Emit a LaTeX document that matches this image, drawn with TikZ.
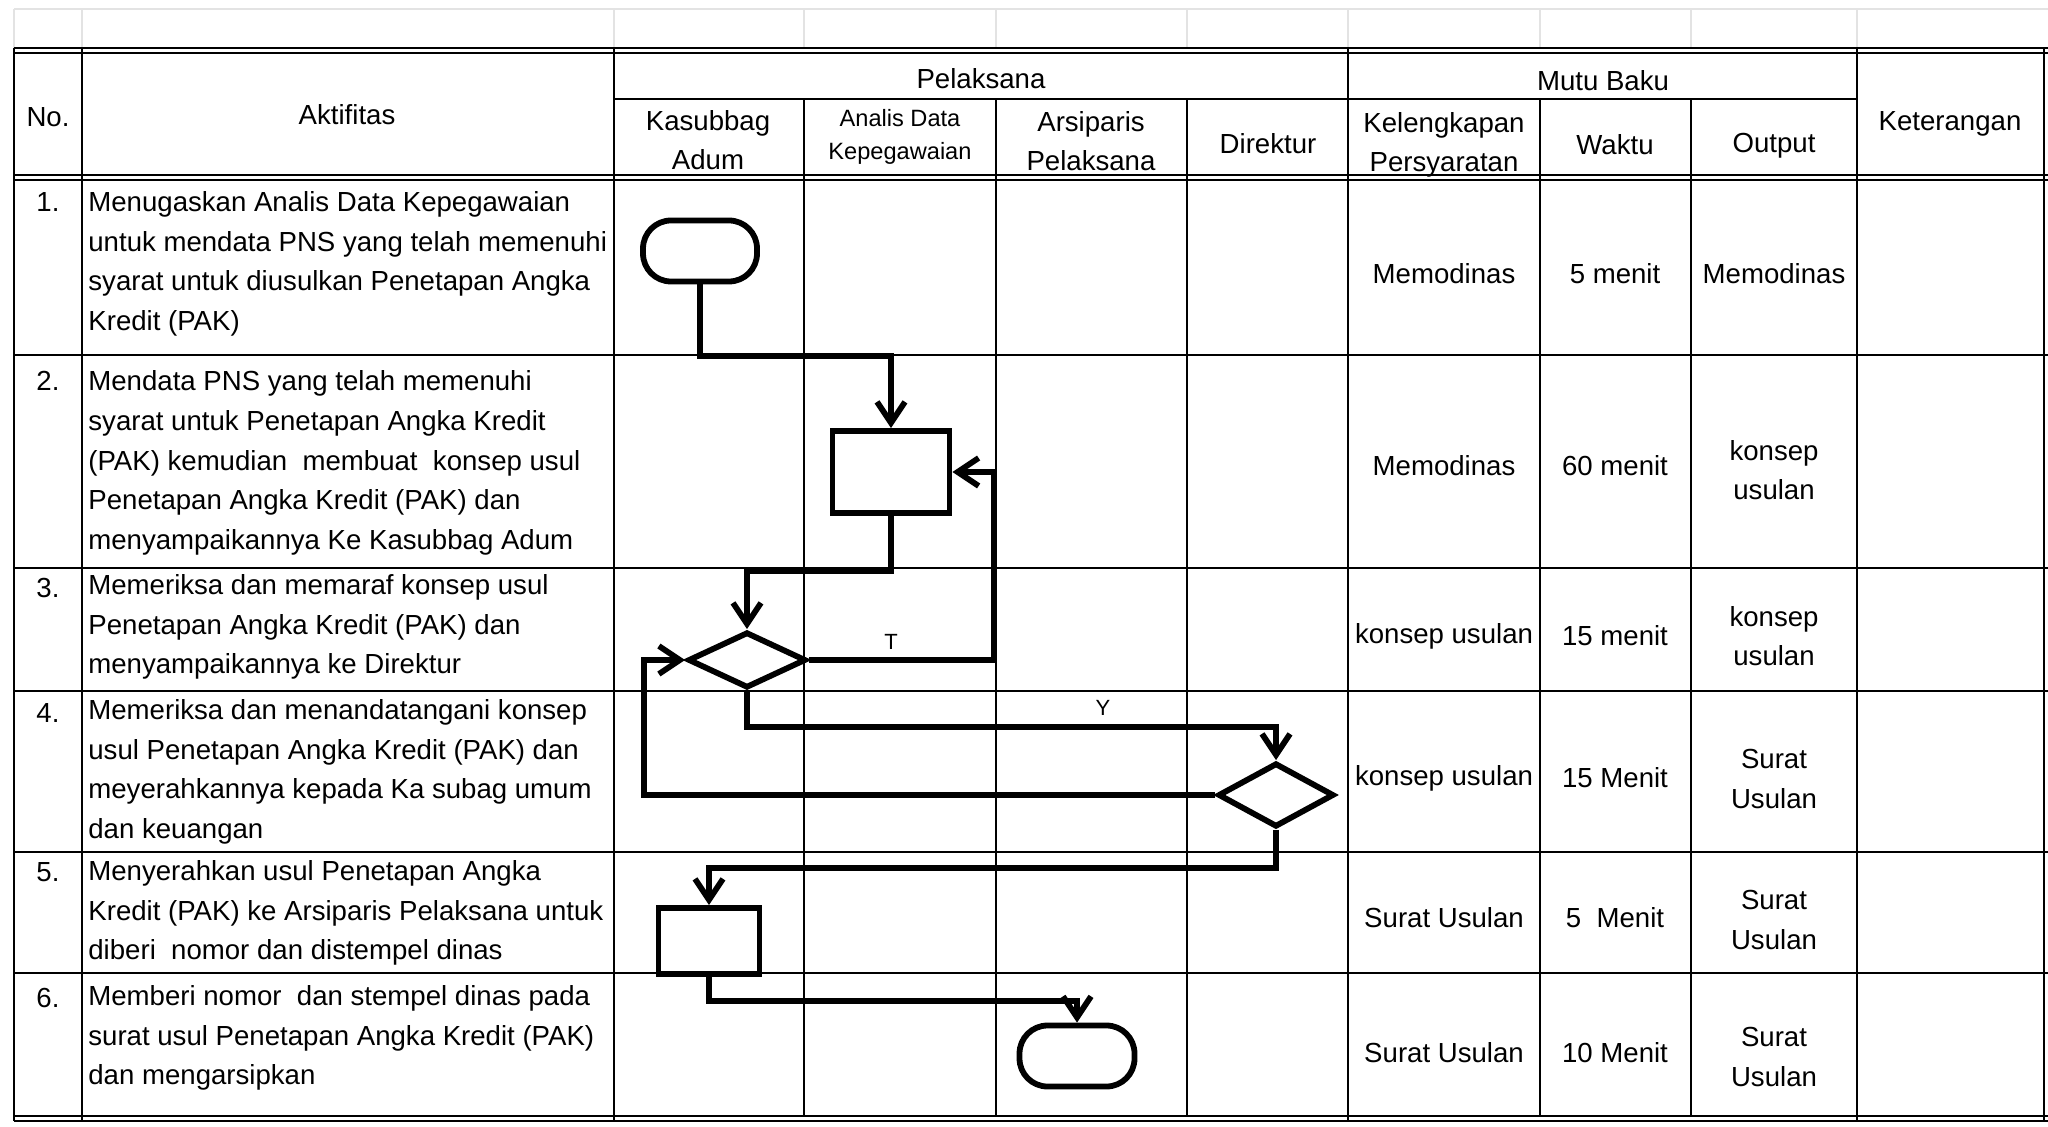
\documentclass[tikz,border=0pt]{standalone}
\usepackage{fontspec}
\setmainfont{Liberation Sans}
\usetikzlibrary{arrows.meta,shapes.geometric}
\begin{document}
\begin{tikzpicture}[x=0.5pt,y=-0.5pt,
  faint/.style={draw=black!11,line width=0.6pt},
  tline/.style={draw=black,line width=1pt},
  flow/.style={draw=black,line width=2.9pt,line join=miter},
  arr/.style={flow,-{Straight Barb[length=10.5pt,width=14pt]}},
  term/.style={draw,line width=2.9pt,rectangle,rounded corners=14pt,inner sep=0pt},
  proc/.style={draw,line width=2.9pt,rectangle,inner sep=0pt},
  dec/.style={draw,line width=2.9pt,diamond,inner sep=0pt},
  body/.style={font=\fontsize{13.8}{19.8}\selectfont,inner sep=0pt,align=left,anchor=west},
  cell/.style={font=\fontsize{13.8}{19.8}\selectfont,inner sep=0pt,align=center},
  small/.style={font=\fontsize{11.8}{16.5}\selectfont,inner sep=0pt,align=center},
  lbl/.style={font=\fontsize{11}{13}\selectfont,inner sep=0pt}
]
\fill[white] (0,0) rectangle (2048,1127);
\useasboundingbox (0,0) rectangle (2048,1127);

% faint spreadsheet grid above the table
\draw[faint] (14,9) -- (2048,9);
\foreach \x in {14,82,614,804,996,1187,1348,1540,1691,1857}
  \draw[faint] (\x,9) -- (\x,48);

% table frame
\draw[tline,line width=0.8pt] (14,48) -- (2048,48);
\draw[tline,line width=1.4pt] (14,53) -- (2048,53);
\draw[tline] (614,99) -- (1857,99);
\draw[tline] (14,175) -- (2048,175);
\draw[tline,line width=1.4pt] (14,180) -- (2048,180);
\foreach \y in {355,568,691,852,973}
  \draw[tline] (14,\y) -- (2048,\y);
\draw[tline,line width=1.4pt] (14,1116) -- (2048,1116);
\draw[tline,line width=0.8pt] (14,1121) -- (2048,1121);
\foreach \x in {14,82,614,1348,1857,2044}
  \draw[tline] (\x,48) -- (\x,1121);
\foreach \x in {804,996,1187,1540,1691}
  \draw[tline] (\x,99) -- (\x,1116);

% header
\node[cell] (hno) at (48,117) {No.};
\node[cell] (hakt) at (347,115) {Aktifitas};
\node[cell] (hpel) at (981,79) {Pelaksana};
\node[cell] (hmutu) at (1603,81) {Mutu Baku};
\node[cell] (hket) at (1950,124) {Keterangan};
\node[cell] (hkas) at (708,140) {Kasubbag\\Adum};
\node[small] (hana) at (900,137) {Analis Data\\Kepegawaian};
\node[cell] (hars) at (1091,141) {Arsiparis\\Pelaksana};
\node[cell] (hdir) at (1268,144) {Direktur};
\node[cell] (hkel) at (1444,145) {Kelengkapan\\Persyaratan};
\node[cell] (hwak) at (1615,145) {Waktu};
\node[cell] (hout) at (1774,146) {Output};

% numbers
\node[cell] (n1) at (48,202) {1.};
\node[cell] (n2) at (48,381) {2.};
\node[cell] (n3) at (48,588) {3.};
\node[cell] (n4) at (48,713) {4.};
\node[cell] (n5) at (48,872) {5.};
\node[cell] (n6) at (48,998) {6.};

% activities
\node[body] (a1) at (88,264) {Menugaskan Analis Data Kepegawaian\\untuk mendata PNS yang telah memenuhi\\syarat untuk diusulkan Penetapan Angka\\Kredit (PAK)};
\node[body] (a2) at (88,463) {Mendata PNS yang telah memenuhi\\syarat untuk Penetapan Angka Kredit\\(PAK) kemudian~ membuat~ konsep usul\\Penetapan Angka Kredit (PAK) dan\\menyampaikannya Ke Kasubbag Adum};
\node[body] (a3) at (88,627) {Memeriksa dan memaraf konsep usul\\Penetapan Angka Kredit (PAK) dan\\menyampaikannya ke Direktur};
\node[body] (a4) at (88,772) {Memeriksa dan menandatangani konsep\\usul Penetapan Angka Kredit (PAK) dan\\meyerahkannya kepada Ka subag umum\\dan keuangan};
\node[body] (a5) at (88,913) {Menyerahkan usul Penetapan Angka\\Kredit (PAK) ke Arsiparis Pelaksana untuk\\diberi~ nomor dan distempel dinas};
\node[body] (a6) at (88,1038) {Memberi nomor~ dan stempel dinas pada\\surat usul Penetapan Angka Kredit (PAK)\\dan mengarsipkan};

% mutu baku
\node[cell] (k1) at (1444,274) {Memodinas};
\node[cell] (w1) at (1615,274) {5 menit};
\node[cell] (o1) at (1774,274) {Memodinas};
\node[cell] (k2) at (1444,466) {Memodinas};
\node[cell] (w2) at (1615,466) {60 menit};
\node[cell] (o2) at (1774,470) {konsep\\usulan};
\node[cell] (k3) at (1444,636) {konsep usulan};
\node[cell] (w3) at (1615,636) {15 menit};
\node[cell] (o3) at (1774,636) {konsep\\usulan};
\node[cell] (k4) at (1444,778) {konsep usulan};
\node[cell] (w4) at (1615,778) {15 Menit};
\node[cell] (o4) at (1774,779) {Surat\\Usulan};
\node[cell] (k5) at (1444,918) {Surat Usulan};
\node[cell] (w5) at (1615,918) {5~~Menit};
\node[cell] (o5) at (1774,920) {Surat\\Usulan};
\node[cell] (k6) at (1444,1053) {Surat Usulan};
\node[cell] (w6) at (1615,1053) {10 Menit};
\node[cell] (o6) at (1774,1057) {Surat\\Usulan};

% flow shapes
\node[term,minimum width=57pt,minimum height=30.5pt] (start) at (700,251) {};
\node[proc,minimum width=58.5pt,minimum height=41pt] (box1) at (891,472) {};
\node[dec,minimum width=59pt,minimum height=28pt] (d1) at (747,660) {};
\node[dec,minimum width=58pt,minimum height=32pt] (d2) at (1276,795) {};
\node[proc,minimum width=50.5pt,minimum height=33pt] (box2) at (709,941) {};
\node[term,minimum width=57.5pt,minimum height=30.5pt] (stop) at (1077,1056) {};

% connector bends
\coordinate (c1) at (700,356);
\coordinate (c2) at (891,571);
\coordinate (tc) at (994,472);
\coordinate (c3) at (747,727);
\coordinate (lb) at (644,660);
\coordinate (c4) at (1276,868);
\coordinate (c5) at (709,1001);

\draw[arr] (start.south) -- (c1) -| (box1.north);
\draw[arr] (box1.south) -- (c2) -| (d1.north);
\draw[arr] (d1.east) -| (tc) -- (box1.east);
\draw[arr] (d1.south) -- (c3) -| (d2.north);
\draw[arr] (d2.west) -| (lb) -- (d1.west);
\draw[arr] (d2.south) -- (c4) -| (box2.north);
\draw[arr] (box2.south) -- (c5) -| (stop.north);

\node[lbl] (lt) at (891,642) {T};
\node[lbl] (ly) at (1103,708) {Y};
\end{tikzpicture}
\end{document}
